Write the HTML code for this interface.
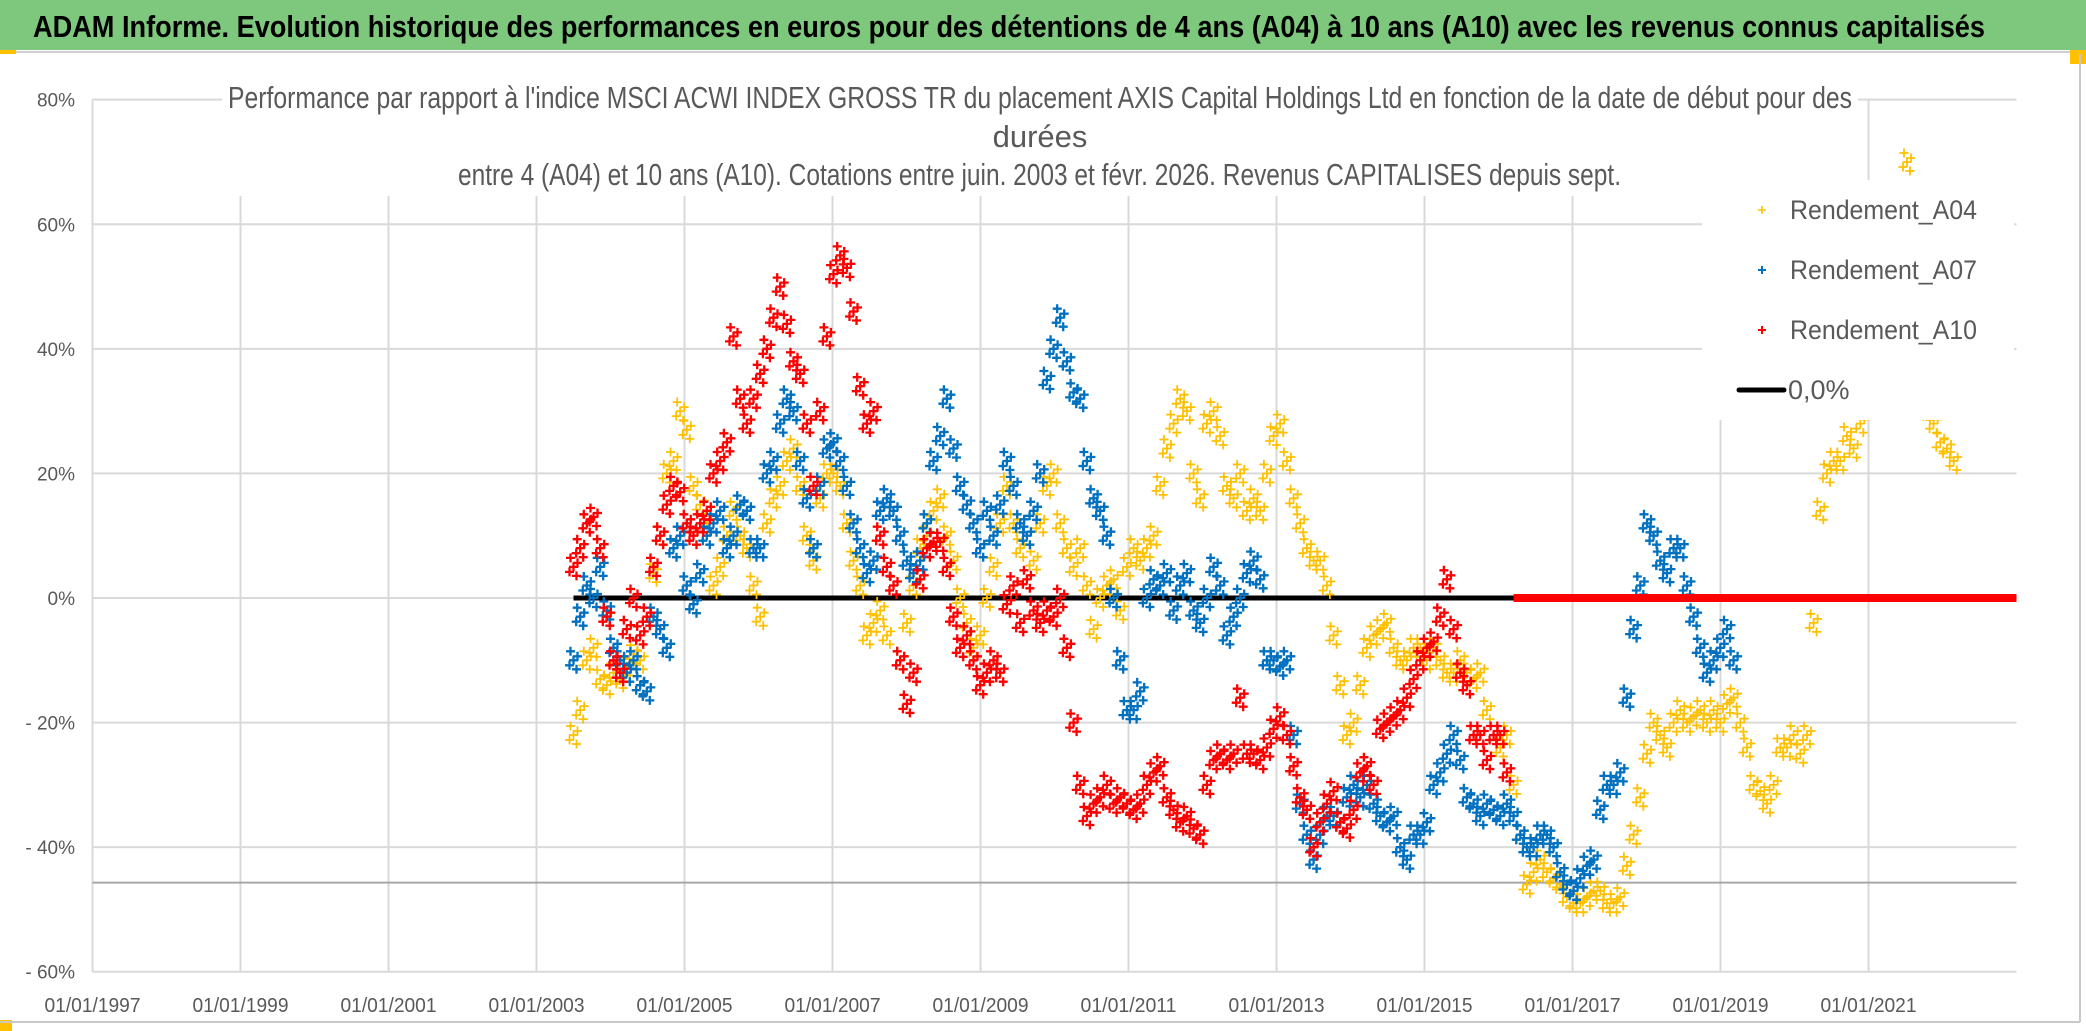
<!DOCTYPE html>
<html>
<head>
<meta charset="utf-8">
<style>
html,body{margin:0;padding:0;background:#fff;}
svg{display:block;font-family:"Liberation Sans",sans-serif;}
</style>
</head>
<body>
<svg id="chart" width="2086" height="1031" viewBox="0 0 2086 1031" xmlns="http://www.w3.org/2000/svg">
  <rect x="0" y="0" width="2086" height="1031" fill="#fff"/>
  <rect x="0" y="0" width="2086" height="50" fill="#7dc87d"/>
  <line x1="0" y1="52" x2="2086" y2="52" stroke="#d0d0d0" stroke-width="2"/>
  <text x="33" y="37" font-size="31" font-weight="bold" fill="#000" textLength="1952" lengthAdjust="spacingAndGlyphs">ADAM Informe. Evolution historique des performances en euros pour des détentions de 4 ans (A04) à 10 ans (A10) avec les revenus connus capitalisés</text>
  <rect x="0" y="50" width="16" height="4" fill="#ffc000"/>
  <rect x="2070" y="50" width="16" height="14" fill="#ffc000"/>
  <rect x="0" y="1020" width="12" height="11" fill="#ffc000"/>
  <line x1="2080" y1="54" x2="2080" y2="1022" stroke="#c8c8c8" stroke-width="2"/>
  <line x1="0" y1="1022" x2="2080" y2="1022" stroke="#c8c8c8" stroke-width="2"/>
  <g id="grid"></g>
  <g id="ylabels"></g>
  <g id="xlabels"></g>
  <g id="marks"></g>
  <rect x="222" y="78" width="1636" height="118" fill="#fff"/>
  <g fill="#595959" font-size="31">
    <text x="228" y="108" textLength="1624" lengthAdjust="spacingAndGlyphs">Performance  par rapport à l'indice MSCI ACWI INDEX GROSS TR  du placement AXIS Capital Holdings Ltd en fonction de la date de début pour des</text>
    <text x="1040" y="147" text-anchor="middle">durées</text>
    <text x="458" y="185" textLength="1163" lengthAdjust="spacingAndGlyphs">entre 4 (A04) et 10 ans (A10). Cotations entre juin. 2003 et févr. 2026. Revenus CAPITALISES depuis sept.</text>
  </g>
  <g>
    <rect x="1702" y="180" width="312" height="240" fill="#fff"/>
    <g>
      <path d="M1758 210h8M1762 206v8" stroke="#ffc000" stroke-width="1.6"/>
      <text x="1790" y="219" font-size="27" fill="#595959" textLength="187" lengthAdjust="spacingAndGlyphs">Rendement_A04</text>
    </g>
    <g>
      <path d="M1758 270h8M1762 266v8" stroke="#0070c0" stroke-width="2"/>
      <text x="1790" y="279" font-size="27" fill="#595959" textLength="187" lengthAdjust="spacingAndGlyphs">Rendement_A07</text>
    </g>
    <g>
      <path d="M1758 330h8M1762 326v8" stroke="#ff0000" stroke-width="2"/>
      <text x="1790" y="339" font-size="27" fill="#595959" textLength="187" lengthAdjust="spacingAndGlyphs">Rendement_A10</text>
    </g>
    <g>
      <line x1="1739" y1="390" x2="1784" y2="390" stroke="#000" stroke-width="5" stroke-linecap="round"/>
      <text x="1788" y="399" font-size="27" fill="#595959">0,0%</text>
    </g>
  </g>
</svg>
<script>
// ---- chart data ----
const yTicks = [0.8, 0.6, 0.4, 0.2, 0, -0.2, -0.4, -0.6];
const yTickLabels = ["80%", "60%", "40%", "20%", "0%", "- 20%", "- 40%", "- 60%"];
const xTickYears = [1997, 1999, 2001, 2003, 2005, 2007, 2009, 2011, 2013, 2015, 2017, 2019, 2021];
const xTickLabels = ["01/01/1997","01/01/1999","01/01/2001","01/01/2003","01/01/2005","01/01/2007","01/01/2009","01/01/2011","01/01/2013","01/01/2015","01/01/2017","01/01/2019","01/01/2021"];
const startYear = 2003.5;
const stepYears = 0.0901;
const endYear = 2023.0;
const refLineValue = -0.457;
// A04 values (%)
const a04 = [-22,-18,-10,-8,-13,-14,-12,-13,-11,-9,-10,-15,4,10,20,22,30,27,18,15,12,2,5,10,14,10,8,2,-3,12,16,18,22,24,18,10,6,16,20,20,18,12,6,2,-6,-4,-2,-6,2,-10,-4,2,8,10,14,16,10,6,0,-4,-8,-6,0,5,12,18,12,8,10,6,12,18,20,
 12,8,5,8,2,-5,0,2,3,-2,5,8,6,8,10,18,24,28,32,30,20,16,28,30,26,18,16,20,14,16,14,20,26,28,22,16,12,8,6,6,2,-6,-14,-22,-20,-14,-8,-6,-5,-4,-8,-10,-10,-8,-8,-10,-8,-10,-12,-12,-10,-12,-13,-12,-18,-22,-24,-22,-30,-38,-46,-44,-42,
 -44,-45,-46,-48,-49,-49,-48,-47,-47,-49,-49,-48,-43,-38,-32,-25,-20,-22,-24,-20,-18,-20,-19,-18,-20,-18,-20,-17,-16,-20,-24,-30,-31,-33,-30,-24,-24,-22,-25,-22,-4,14,20,22,22,26,24,28,32,36,40,45,50,60,70,60,45,30,28,25,24,22];
// A07 values (%)
const a07 = [-10,-3,2,0,5,-2,-8,-10,-12,-10,-14,-15,-3,-5,-8,8,10,2,-1,4,10,12,14,8,10,15,14,8,8,20,22,28,32,30,22,16,8,18,24,25,22,18,12,8,4,6,14,16,14,10,6,4,6,12,22,26,32,24,18,15,12,8,14,10,15,22,18,12,10,14,20,35,40,
 45,38,33,32,22,16,14,10,0,-10,-18,-18,-15,0,3,2,4,-2,2,4,-2,-4,0,5,2,-6,-3,0,4,6,3,-10,-10,-11,-10,-22,-33,-38,-42,-38,-35,-35,-36,-32,-30,-32,-30,-33,-35,-36,-35,-40,-42,-38,-38,-36,-30,-28,-25,-22,-26,-32,-33,-35,-33,-34,-35,-33,-35,-38,-40,-40,-38,
 -38,-40,-44,-46,-47,-45,-43,-42,-34,-30,-30,-28,-16,-5,2,12,10,6,4,8,8,2,-3,-8,-12,-10,-8,-5,-10];
// A10 values (%)
const a10 = [5,8,12,13,8,-3,-10,-12,-5,0,-6,-3,5,10,15,18,17,12,10,12,14,20,22,25,42,32,28,32,36,40,45,50,44,38,36,28,18,30,42,52,55,53,46,34,28,30,10,5,2,-10,-17,-12,3,8,9,9,5,-3,-8,-6,-10,-14,-12,-10,-12,-1,2,-4,3,-2,-4,-2,-3,
 0,-8,-20,-30,-35,-33,-32,-30,-33,-32,-33,-34,-33,-30,-28,-27,-32,-34,-36,-35,-37,-38,-30,-26,-25,-26,-25,-16,-25,-25,-26,-24,-21,-19,-22,-27,-32,-34,-40,-36,-33,-31,-36,-37,-34,-28,-27,-30,-21,-20,-19,-18,-16,-13,-10,-8,-7,-3,3,-5,-12,-14,-22,-22,-26,-22,-22,-28];

// ---- axes ----
const X0 = 92.5, PXY = 74;
const Y0 = 598, PXU = 622.9;
function xs(year){ return X0 + (year - 1997) * PXY; }
function ys(v){ return Y0 - v * PXU; }
const xRight = xs(endYear);
const NS = "http://www.w3.org/2000/svg";
function mk(tag, attrs, parent){
  const el = document.createElementNS(NS, tag);
  for (const k in attrs) el.setAttribute(k, attrs[k]);
  parent.appendChild(el);
  return el;
}
const grid = document.getElementById('grid');
const ylab = document.getElementById('ylabels');
const xlab = document.getElementById('xlabels');
const marks = document.getElementById('marks');

yTicks.forEach((t, i) => {
  const l = mk('line', {x1: X0, x2: xRight, y1: ys(t), y2: ys(t), stroke: '#d9d9d9', 'stroke-width': 2}, grid);
  
  
  const tx = mk('text', {x: 75, y: ys(t) + 7, 'text-anchor': 'end', 'font-size': 19, fill: '#595959'}, ylab);
  tx.textContent = yTickLabels[i];
  
  
});
xTickYears.forEach((yr, i) => {
  const l = mk('line', {x1: xs(yr), x2: xs(yr), y1: ys(0.8), y2: ys(-0.6), stroke: '#d9d9d9', 'stroke-width': 2}, grid);
  
  
  const tx = mk('text', {x: xs(yr), y: 1012, 'text-anchor': 'middle', 'font-size': 20, fill: '#595959', textLength: 96, lengthAdjust: 'spacingAndGlyphs'}, xlab);
  tx.textContent = xTickLabels[i];
  
  
});
const ref = mk('line', {x1: X0, x2: xRight, y1: ys(refLineValue), y2: ys(refLineValue), stroke: '#a6a6a6', 'stroke-width': 2}, grid);



const zl = mk('line', {x1: xs(startYear), x2: xRight, y1: ys(0), y2: ys(0), stroke: '#000', 'stroke-width': 5}, marks);



// marker glyph: a small cluster of plus signs (style only)
const glyphOffsets = [[0,0],[-3,-9],[3,9],[4,-4],[-4,5]];
function drawSeries(vals, color, sw, name){
  const g = mk('g', {}, marks);
  
  
  let d = '';
  vals.forEach((v, i) => {
    const cx = xs(startYear + i * stepYears), cy = ys(v / 100);
    glyphOffsets.forEach(o => {
      const x = cx + o[0], y = cy + o[1];
      d += 'M' + (x - 4.5).toFixed(1) + ' ' + y.toFixed(1) + 'h9M' + x.toFixed(1) + ' ' + (y - 4.5).toFixed(1) + 'v9';
    });
  });
  const p = mk('path', {d: d, stroke: color, 'stroke-width': sw, fill: 'none'}, g);
  
  
  const zEnd = startYear + vals.length * stepYears;
  const z = mk('line', {x1: xs(zEnd), x2: xRight, y1: ys(0), y2: ys(0), stroke: color, 'stroke-width': 8}, g);
  
  
}
drawSeries(a04, '#ffc000', 1.8, 'series-a04');
drawSeries(a07, '#0070c0', 2.3, 'series-a07');
drawSeries(a10, '#ff0000', 2.3, 'series-a10');
</script>
</body>
</html>
